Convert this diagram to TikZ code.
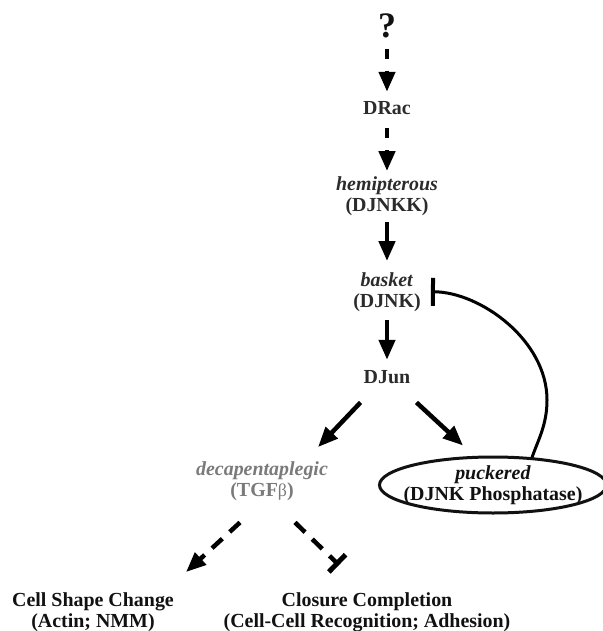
\documentclass[tikz,border=0pt]{standalone}
\usepackage{fontspec}
\setmainfont{Liberation Serif}
\usetikzlibrary{arrows.meta,shapes.geometric}
\definecolor{tdark}{HTML}{2B2B2B}
\definecolor{tgray}{HTML}{7A7A7A}
\definecolor{tblack}{HTML}{111111}
\begin{document}
\begin{tikzpicture}[x=1bp,y=-1bp,
  lbl/.style={inner sep=0pt, align=center, font=\fontsize{20}{21}\selectfont\bfseries, text=tdark},
  ar/.style={line width=4.5bp, -{Triangle[length=20bp,width=16bp]}},
  dar/.style={ar, dash pattern=on 10bp off 12bp},
  ddar/.style={ar, dash pattern=on 14bp off 10bp},
  inh/.style={line width=3bp, -{Bar[width=28bp,line width=4bp]}},
  dinh/.style={line width=4.5bp, dash pattern=on 14bp off 10bp, -{Bar[width=24bp,line width=5bp]}}]
\useasboundingbox (0,0) rectangle (603,631);

\node[lbl, font=\fontsize{36}{36}\selectfont\bfseries, text=tblack, anchor=base] (q) at (387,38) {?};
\node[lbl, anchor=base] (drac) at (387,115) {DRac};
\node[lbl, anchor=base] (hem) at (387,211) {\textit{hemipterous}\\(DJNKK)};
\node[lbl, anchor=base] (bsk) at (387,307) {\textit{basket}\\(DJNK)};
\node[lbl, anchor=base] (djun) at (387,383) {DJun};
\node[lbl, anchor=base, text=tgray] (dpp) at (262,496) {\textit{decapentaplegic}\\(TGF{\mdseries\fontsize{18}{21}\selectfont β})};
\node[lbl, text=tblack, ellipse, draw=tblack, line width=3bp, inner xsep=-30bp, inner ysep=-4bp,
      minimum width=227bp, minimum height=56bp] (puc) at (493,485) {\textit{puckered}\\(DJNK Phosphatase)};
\node[lbl, text=tblack, anchor=base] (csc) at (93,627) {Cell Shape Change\\(Actin; NMM)};
\node[lbl, text=tblack, anchor=base] (clo) at (367,627) {Closure Completion\\(Cell-Cell Recognition; Adhesion)};

\draw[dar, shorten <=10bp, shorten >=10bp] (q) -- (drac);
\draw[dar, shorten <=13bp, shorten >=5bp] (drac) -- (hem);
\draw[ar, shorten <=7bp, shorten >=11bp] (hem) -- (bsk);
\draw[ar, shorten <=9bp, shorten >=10bp] (bsk) -- (djun);
\draw[ar] ([xshift=-3bp,yshift=-19bp]djun.south west) -- ([xshift=-10bp,yshift=14bp]dpp.north east);
\draw[ar] ([xshift=6bp,yshift=-19bp]djun.south east) -- ([xshift=-30bp,yshift=10bp]puc.north);
\draw[inh] ([xshift=39bp,yshift=-2bp]puc.north) .. controls (538,440) and (547,425) .. (547,400)
   .. controls (547,340) and (480,292) .. ([xshift=10bp]bsk.east);
\draw[ddar] ([xshift=-22bp,yshift=-22bp]dpp.south) -- ([xshift=12bp,yshift=20bp]csc.north east);
\draw[dinh] ([xshift=33bp,yshift=-22bp]dpp.south) -- ([xshift=-28bp,yshift=27bp]clo.north);
\end{tikzpicture}
\end{document}
